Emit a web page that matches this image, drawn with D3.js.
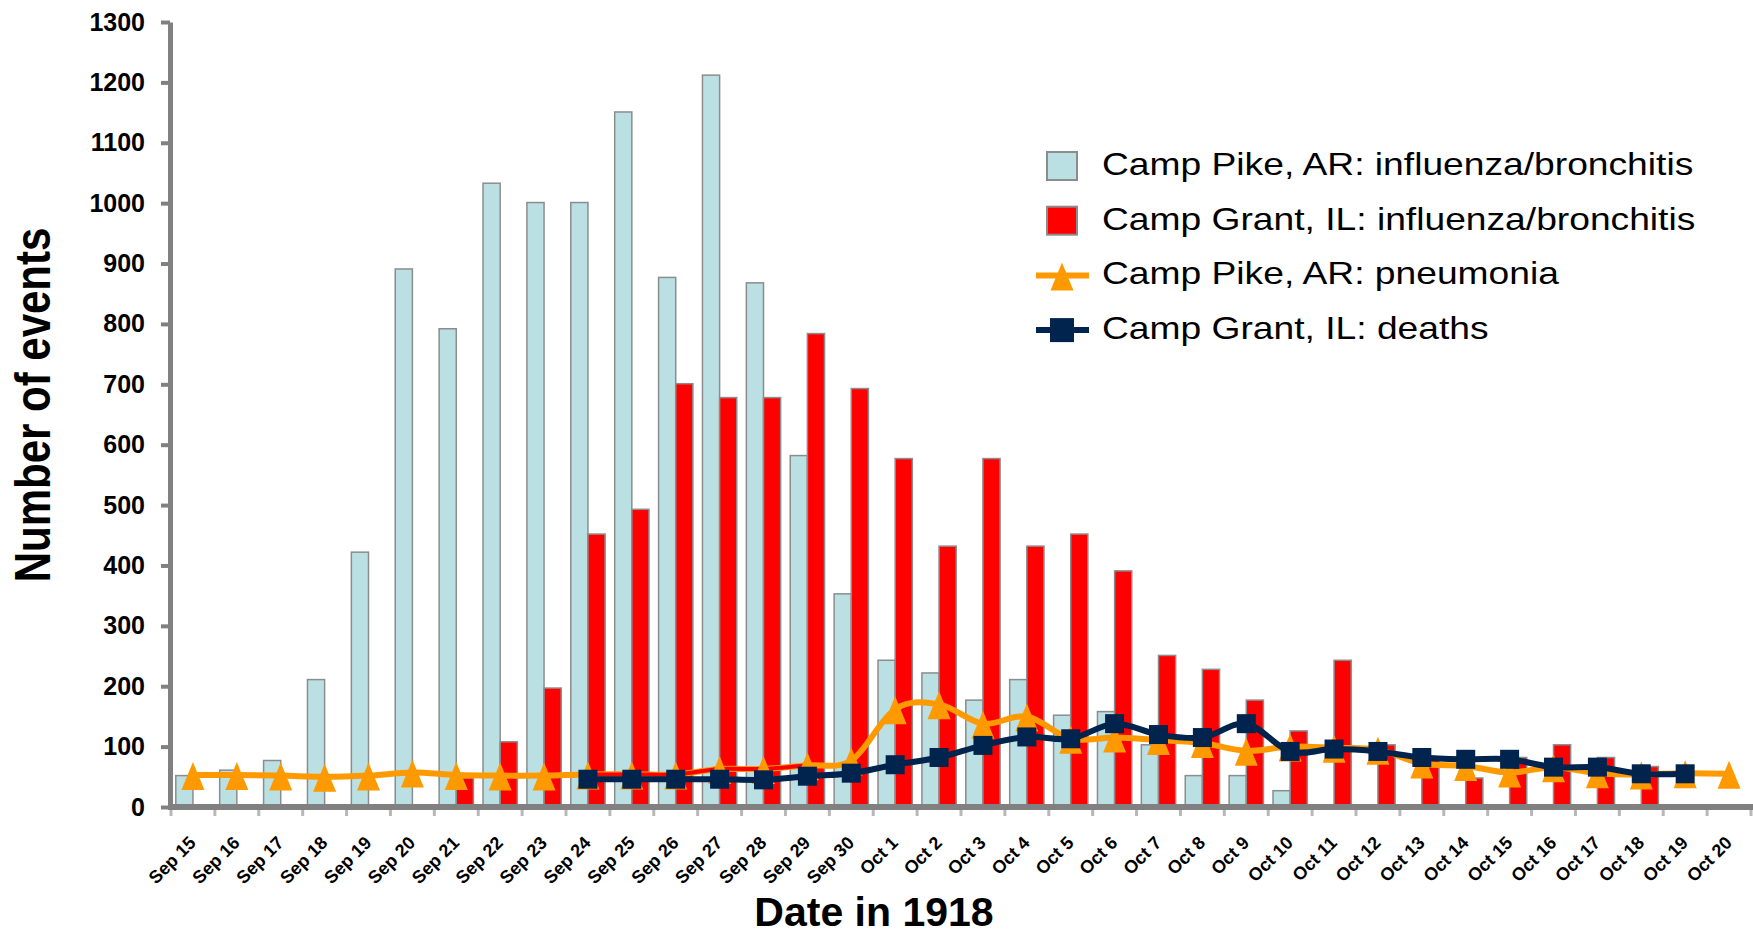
<!DOCTYPE html>
<html>
<head>
<meta charset="utf-8">
<script src="https://cdn.jsdelivr.net/npm/d3@7/dist/d3.min.js"></script>
<style>
    body { margin: 0; background: #fff; }
    svg { display: block; }
</style>
</head>
<body>
<script>
var dates = ['Sep 15', 'Sep 16', 'Sep 17', 'Sep 18', 'Sep 19', 'Sep 20', 'Sep 21', 'Sep 22',
    'Sep 23', 'Sep 24', 'Sep 25', 'Sep 26', 'Sep 27', 'Sep 28', 'Sep 29', 'Sep 30',
    'Oct 1', 'Oct 2', 'Oct 3', 'Oct 4', 'Oct 5', 'Oct 6', 'Oct 7', 'Oct 8', 'Oct 9', 'Oct 10',
    'Oct 11', 'Oct 12', 'Oct 13', 'Oct 14', 'Oct 15', 'Oct 16', 'Oct 17', 'Oct 18', 'Oct 19', 'Oct 20'];

// Camp Pike, AR: influenza/bronchitis (bars)
var pikeFlu = [52, 61, 77, 211, 422, 891, 792, 1033, 1001, 1001, 1151, 877, 1212, 868, 582, 353,
    243, 222, 177, 211, 152, 158, 103, 52, 52, 27,
    null, null, null, null, null, null, null, null, null, null];

// Camp Grant, IL: influenza/bronchitis (bars)
var grantFlu = [null, null, null, null, null, null, 48, 108, 197, 452, 493, 701, 678, 678, 784, 693,
    577, 432, 577, 432, 452, 391, 251, 228, 177, 126,
    243, 103, 78, 48, 82, 103, 82, 67, null, null];

// Camp Pike, AR: pneumonia (line)
var pikePneumonia = [53, 53, 52, 50, 52, 57, 53, 52, 52, 54, 54, 54, 63, 63, 69, 77,
    162, 170, 138, 150, 113, 115, 111, 106, 93, 100, 98, 95, 72, 68, 57, 66, 56, 54, 56, 55];

// Camp Grant, IL: deaths (line)
var grantDeaths = [null, null, null, null, null, null, null, null, null, 46, 46, 46, 46, 45, 51, 56,
    70, 82, 102, 116, 113, 138, 120, 115, 138, 92, 96, 92, 82, 79, 79, 66, 66, 55, 55, null];

// stretch of the pneumonia line that shows in red in the original
var redStretch = ['Sep 24', 'Sep 25', 'Sep 26', 'Sep 27', 'Sep 28', 'Sep 29'];

var seriesNames = ['Camp Pike, AR: influenza/bronchitis', 'Camp Grant, IL: influenza/bronchitis',
    'Camp Pike, AR: pneumonia', 'Camp Grant, IL: deaths'];

var yTicks = d3.range(0, 1301, 100);

var W = 1753,
    H = 935,
    FONT = '"Liberation Sans", Arial, Helvetica, sans-serif',
    BLUE = '#bbe0e3',
    RED = '#ff0000',
    ORANGE = '#ff9900',
    NAVY = '#00244d',
    GREY = '#808080';

var svg = d3.select('body').append('svg')
    .attr('width', W)
    .attr('height', H)
    .style('font-family', FONT);

var x = d3.scaleBand().domain(dates).range([171, 1751]),
    xs = d3.scaleBand().domain(['pike', 'grant']).range([0, x.bandwidth()]).paddingOuter(0.28),
    y = d3.scaleLinear().domain([0, 1300]).range([807, 22]);

function cx(d) { return x(d) + x.bandwidth() / 2; }

function rows(vals) {
    return dates.map(function(d, i) { return {d: d, v: vals[i]}; });
}

// bars
var bars = svg.append('g');

function drawBars(vals, key, fill) {
    bars.selectAll('rect.' + key)
        .data(rows(vals).filter(function(o) { return o.v != null; }))
        .enter().append('rect')
            .attr('class', key)
            .attr('x', function(o) { return x(o.d) + xs(key); })
            .attr('width', xs.bandwidth())
            .attr('y', function(o) { return y(o.v); })
            .attr('height', function(o) { return y(0) - y(o.v); })
            .attr('fill', fill)
            .attr('stroke', '#8c8c8c')
            .attr('stroke-width', 1.5);
}

drawBars(pikeFlu, 'pike', BLUE);
drawBars(grantFlu, 'grant', RED);

// y axis
var yAxis = svg.append('g')
    .attr('transform', 'translate(170,0)')
    .call(d3.axisLeft(y).tickValues(yTicks).tickFormat(d3.format('d'))
        .tickSizeInner(9).tickSizeOuter(0).tickPadding(16));

yAxis.attr('font-family', FONT);
yAxis.select('.domain').attr('stroke', GREY).attr('stroke-width', 5);
yAxis.selectAll('.tick line').attr('stroke', GREY).attr('stroke-width', 4);
yAxis.selectAll('.tick text')
    .attr('fill', '#000')
    .attr('font-size', 25)
    .attr('font-weight', 'bold');

// x axis: labels from the band scale, ticks at the band edges
var xAxis = svg.append('g')
    .attr('transform', 'translate(0,' + y(0) + ')')
    .call(d3.axisBottom(x).tickSize(0).tickPadding(0));

xAxis.attr('font-family', FONT);
xAxis.select('.domain').remove();
xAxis.selectAll('.tick text')
    .attr('y', 0)
    .attr('dy', 0)
    .attr('text-anchor', 'end')
    .attr('transform', 'translate(4,37) rotate(-45)')
    .attr('fill', '#000')
    .attr('font-size', 18)
    .attr('font-weight', 'bold');

svg.append('g').selectAll('line')
    .data(dates.map(function(d) { return x(d); }).concat([x.range()[1]]))
    .enter().append('line')
        .attr('x1', function(d) { return d; })
        .attr('x2', function(d) { return d; })
        .attr('y1', y(0) + 3)
        .attr('y2', y(0) + 9)
        .attr('stroke', '#b8b8b8')
        .attr('stroke-width', 3);

svg.append('line')
    .attr('x1', x.range()[0] - 3)
    .attr('x2', W)
    .attr('y1', y(0))
    .attr('y2', y(0))
    .attr('stroke', GREY)
    .attr('stroke-width', 6);

// lines
var line = d3.line()
    .defined(function(o) { return o.v != null; })
    .x(function(o) { return cx(o.d); })
    .y(function(o) { return y(o.v); })
    .curve(d3.curveCardinal.tension(0));

var TRI = 'M0,-13 L11.5,15 L-11.5,15 Z';

svg.append('path')
    .attr('d', line(rows(pikePneumonia)))
    .attr('fill', 'none')
    .attr('stroke', ORANGE)
    .attr('stroke-width', 6);

svg.append('path')
    .attr('d', line(rows(pikePneumonia).filter(function(o) { return redStretch.indexOf(o.d) >= 0; })))
    .attr('fill', 'none')
    .attr('stroke', RED)
    .attr('stroke-width', 4);

svg.append('g').selectAll('path')
    .data(rows(pikePneumonia))
    .enter().append('path')
        .attr('d', TRI)
        .attr('transform', function(o) { return 'translate(' + [cx(o.d), y(o.v)] + ')'; })
        .attr('fill', ORANGE);

svg.append('path')
    .attr('d', line(rows(grantDeaths)))
    .attr('fill', 'none')
    .attr('stroke', NAVY)
    .attr('stroke-width', 6);

svg.append('g').selectAll('rect')
    .data(rows(grantDeaths).filter(function(o) { return o.v != null; }))
    .enter().append('rect')
        .attr('x', function(o) { return cx(o.d) - 9.5; })
        .attr('y', function(o) { return y(o.v) - 9.5; })
        .attr('width', 19)
        .attr('height', 19)
        .attr('fill', NAVY);

// axis titles
svg.append('text')
    .attr('transform', 'translate(874,926)')
    .attr('text-anchor', 'middle')
    .attr('font-size', 41)
    .attr('font-weight', 'bold')
    .text('Date in 1918');

svg.append('text')
    .attr('transform', 'translate(50,405) scale(1.2,1) rotate(-90)')
    .attr('text-anchor', 'middle')
    .attr('font-size', 42)
    .attr('font-weight', 'bold')
    .text('Number of events');

// legend
var legend = svg.append('g');

seriesNames.map(function(name, i) {
    var base = 175 + i * 54.7,
        my = base - 9,
        g = legend.append('g');

    if (i < 2) {
        g.append('rect')
            .attr('x', 1047)
            .attr('y', my - 14)
            .attr('width', 30)
            .attr('height', 28)
            .attr('fill', i == 0 ? BLUE : RED)
            .attr('stroke', '#8c8c8c')
            .attr('stroke-width', 2);
    } else {
        g.append('line')
            .attr('x1', 1036)
            .attr('x2', 1089)
            .attr('y1', my)
            .attr('y2', my)
            .attr('stroke', i == 2 ? ORANGE : NAVY)
            .attr('stroke-width', 6);
        if (i == 2) {
            g.append('path')
                .attr('d', TRI)
                .attr('transform', 'translate(' + [1062, my] + ')')
                .attr('fill', ORANGE);
        } else {
            g.append('rect')
                .attr('x', 1062 - 12)
                .attr('y', my - 12)
                .attr('width', 24)
                .attr('height', 24)
                .attr('fill', NAVY);
        }
    }

    g.append('text')
        .attr('transform', 'translate(' + [1102, base] + ') scale(1.2,1)')
        .attr('font-size', 31)
        .attr('fill', '#000')
        .text(name);
});
</script>
</body>
</html>
